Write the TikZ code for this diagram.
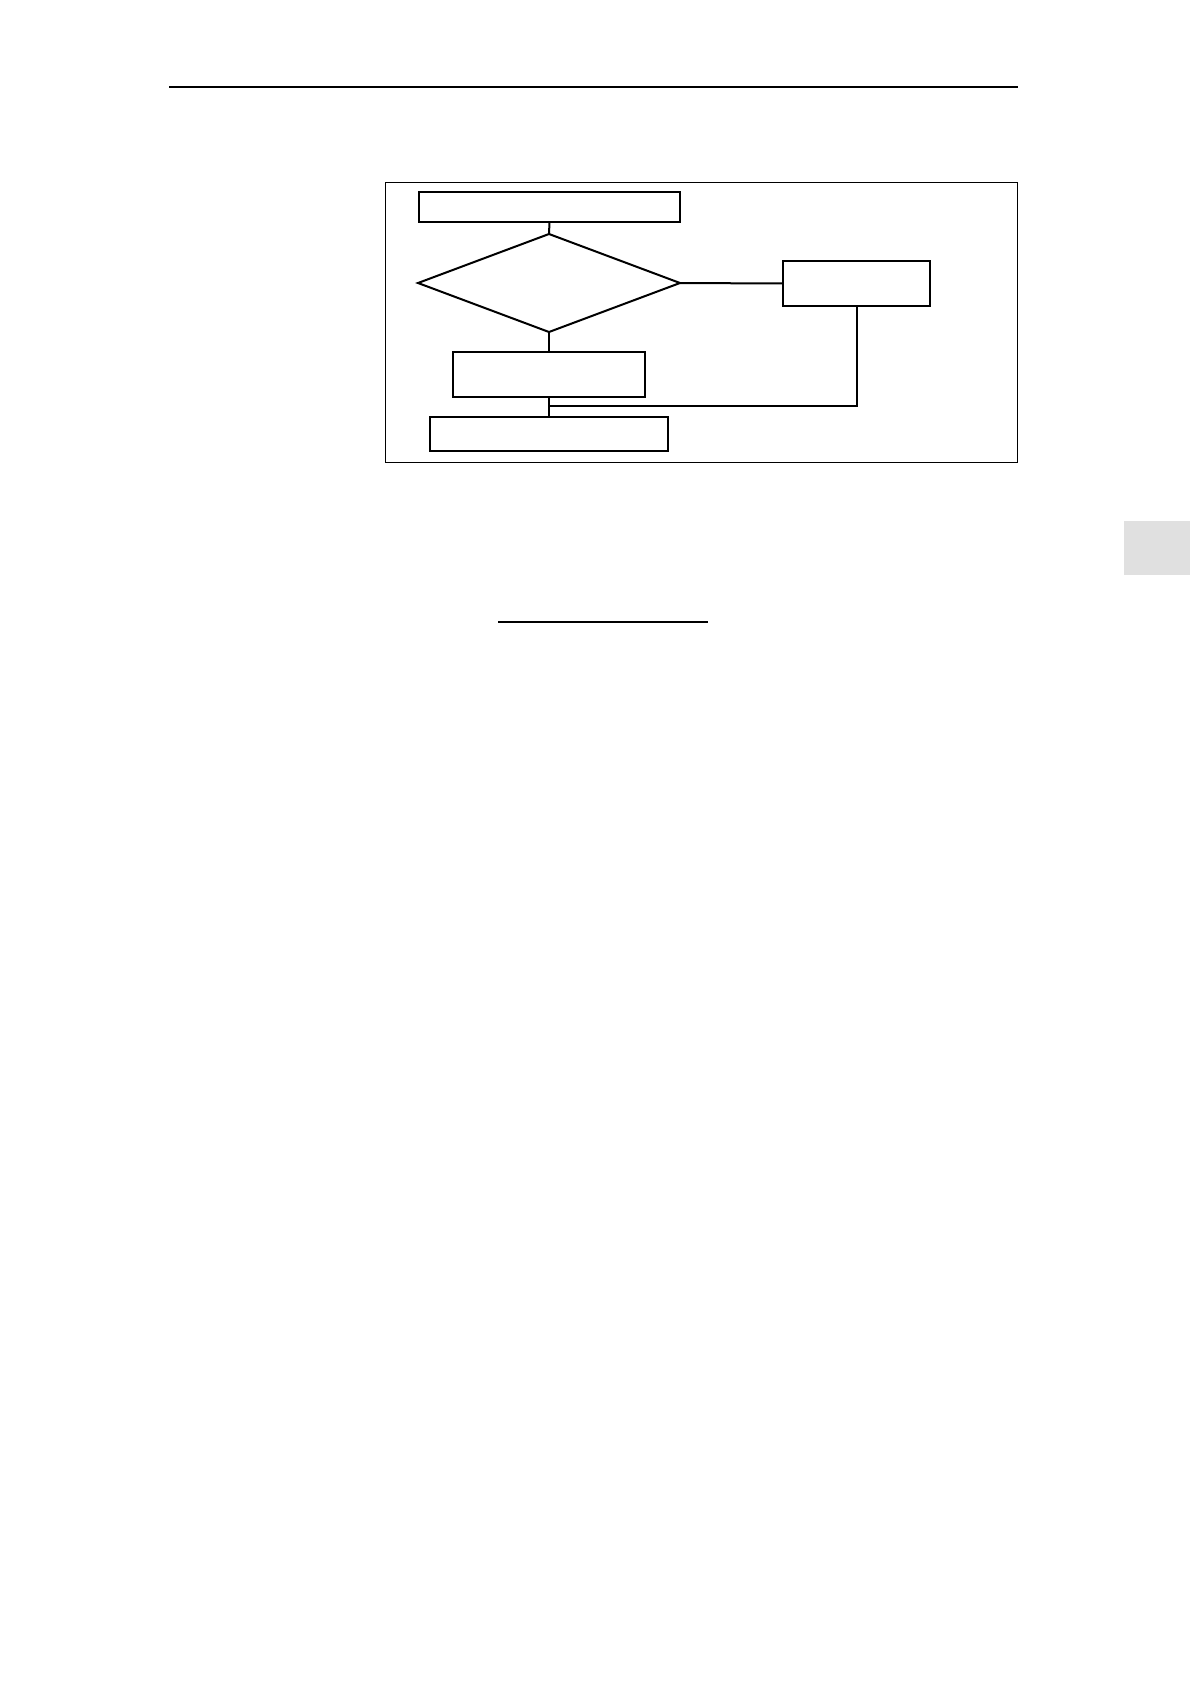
\documentclass[tikz,border=0pt]{standalone}
\usetikzlibrary{shapes.geometric}
\begin{document}
\begin{tikzpicture}[x=1pt,y=-1pt,
  stepbox/.style={draw, line width=2pt, rectangle, inner sep=0pt, outer sep=0pt},
  decbox/.style={draw, line width=2pt, diamond, aspect=2.673, inner sep=0pt, outer sep=0pt, minimum width=262pt, minimum height=98pt},
  conn/.style={line width=2pt},
  rule/.style={line width=1.5pt}]
\useasboundingbox (0,0) rectangle (1190,1684);
\fill[white] (0,0) rectangle (1190,1684);
% header rule
\coordinate (hl) at (169,87);
\coordinate (hr) at (1018,87);
\draw[rule] (hl) -- (hr);
% frame
\draw[line width=1pt] (385,182) rectangle (1017,462);
% nodes
\node[stepbox, minimum width=261pt, minimum height=30pt] (start) at (549.5,207) {};
\node[decbox] (dec) at (549,283) {};
\node[stepbox, minimum width=147pt, minimum height=45pt] (right) at (856.5,283.5) {};
\node[stepbox, minimum width=192pt, minimum height=45pt] (mid) at (549,374.5) {};
\node[stepbox, minimum width=238pt, minimum height=34pt] (last) at (549,434) {};
% connectors
\draw[conn] (start.south) -- (dec.north);
\draw[conn] (dec.east) -- (right.west);
\draw[conn] (dec.south) -- (mid.north);
\draw[conn] (mid.south) -- (last.north);
\coordinate (join) at (549,406);
\draw[conn] (right.south) |- (join);
% underline
\coordinate (ul) at (498,622);
\coordinate (ur) at (708,622);
\draw[rule] (ul) -- (ur);
% thumb tab
\fill[black!12] (1124,521) rectangle (1190,575);
\end{tikzpicture}
\end{document}
